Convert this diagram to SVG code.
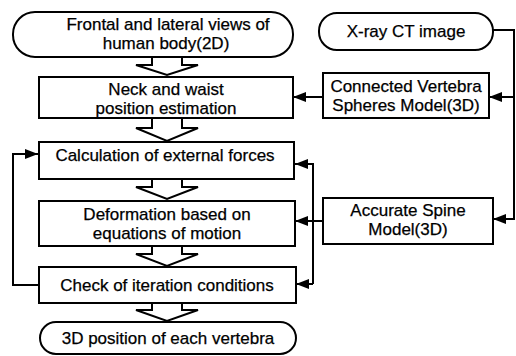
<svg xmlns="http://www.w3.org/2000/svg" width="516" height="356" viewBox="0 0 516 356">
<defs>
<style>
.box{fill:#fff;stroke:#000;stroke-width:2}
.t{font-family:"Liberation Sans",Arial,sans-serif;font-size:17px;fill:#000;stroke:#000;stroke-width:0.25;text-anchor:middle}
.ln{fill:none;stroke:#000;stroke-width:2}
.ha{fill:#fff;stroke:#000;stroke-width:2;stroke-linejoin:miter}
</style>
<marker id="ah" viewBox="0 0 13 10" refX="13" refY="5" markerWidth="13" markerHeight="10" markerUnits="userSpaceOnUse" orient="auto">
<path d="M0,0 L13,5 L0,10 Z" fill="#000"/>
</marker>
</defs>
<rect width="516" height="356" fill="#fff"/>
<g id="connectors">
<path class="ha" d="M152,57 V65 H136 L167,75 L198,65 H182 V57"/>
<path class="ha" d="M152,118 V128 H136 L167,141 L198,128 H182 V118"/>
<path class="ha" d="M152,179 V187 H136 L167,199 L198,187 H182 V179"/>
<path class="ha" d="M152,246 V254 H136 L167,266 L198,254 H182 V246"/>
<path class="ha" d="M152,303 V310 H136 L167,321 L198,310 H182 V303"/>
<path class="ln" d="M39,285 H13 V154 H38" marker-end="url(#ah)"/>
<path class="ln" d="M313,284 V164 H295" marker-end="url(#ah)"/>
<path class="ln" d="M313,284 H296" marker-end="url(#ah)"/>
<path class="ln" d="M323,221 H295" marker-end="url(#ah)"/>
<path class="ln" d="M323,97 H293" marker-end="url(#ah)"/>
<path class="ln" d="M493,30 H514 V219 H493" marker-end="url(#ah)"/>
<path class="ln" d="M514,97 H489" marker-end="url(#ah)"/>
</g>
<g id="n1"><rect class="box" x="13" y="12" width="280" height="45" rx="22" ry="22"/><text class="t" x="168" y="30">Frontal and lateral views of</text><text class="t" x="166" y="49">human body(2D)</text></g>
<g id="n2"><rect class="box" x="39" y="77" width="254" height="41"/><text class="t" x="166" y="95">Neck and waist</text><text class="t" x="166" y="114">position estimation</text></g>
<g id="n3"><rect class="box" x="39" y="142" width="255" height="37"/><text class="t" x="165" y="161">Calculation of external forces</text></g>
<g id="n4"><rect class="box" x="39" y="201" width="256" height="45"/><text class="t" x="167" y="220">Deformation based on</text><text class="t" x="167" y="239">equations of motion</text></g>
<g id="n5"><rect class="box" x="39" y="267" width="257" height="36"/><text class="t" x="167" y="291">Check of iteration conditions</text></g>
<g id="n6"><rect class="box" x="40" y="322" width="256" height="32" rx="16" ry="16"/><text class="t" x="168" y="344">3D position of each vertebra</text></g>
<g id="n7"><rect class="box" x="319" y="13" width="174" height="37" rx="18" ry="18"/><text class="t" x="406" y="37">X-ray CT image</text></g>
<g id="n8"><rect class="box" x="323" y="73" width="166" height="45"/><text class="t" x="406" y="92">Connected Vertebra</text><text class="t" x="406" y="111">Spheres Model(3D)</text></g>
<g id="n9"><rect class="box" x="323" y="198" width="170" height="46"/><text class="t" x="408" y="216">Accurate Spine</text><text class="t" x="408" y="235">Model(3D)</text></g>
</svg>
